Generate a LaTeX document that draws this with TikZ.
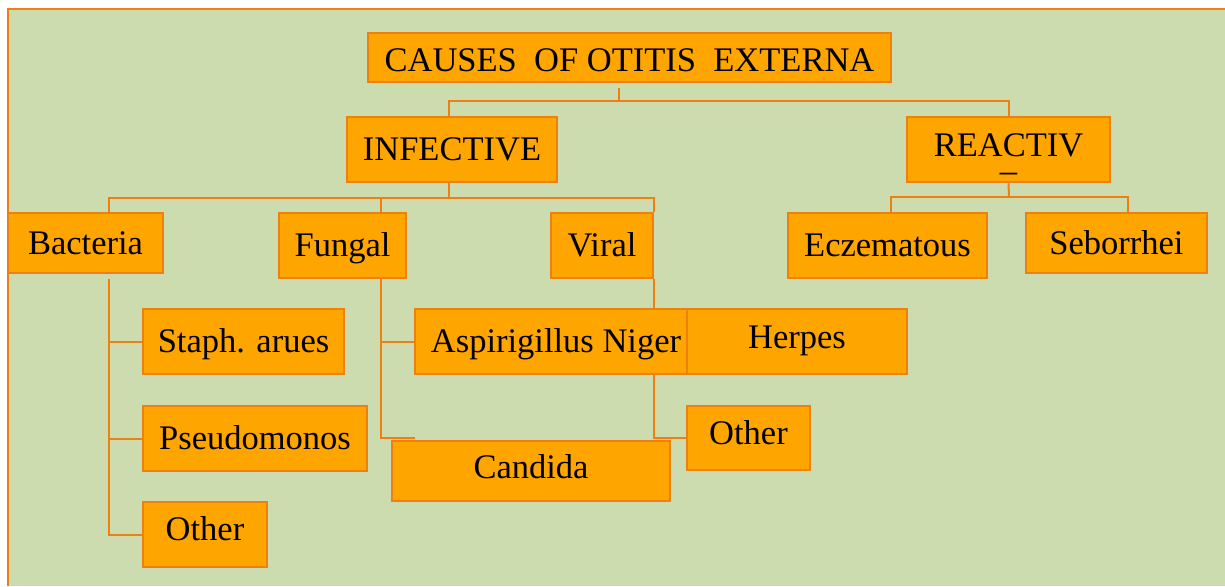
\documentclass[tikz,border=0pt]{standalone}
\usepackage{fontspec}
\setmainfont{Liberation Serif}
\definecolor{bgreen}{HTML}{CDDCAE}
\definecolor{boxfill}{HTML}{FFA500}
\definecolor{boxline}{HTML}{EE8012}
\pgfdeclarelayer{bg}
\pgfdeclarelayer{conn}
\pgfsetlayers{bg,conn,main}
\begin{document}
\begin{tikzpicture}[x=1pt,y=-1pt,
  box/.style={draw=boxline, fill=boxfill, line width=2.5pt, inner sep=0pt,
    text height=22.5pt, text depth=0pt, font=\fontsize{34.5}{40}\selectfont},
  link/.style={draw=boxline, line width=2pt}]
\useasboundingbox (0,0) rectangle (1225,586);
\begin{pgfonlayer}{bg}
  \fill[bgreen] (8,9) rectangle (1225,586);
  \draw[boxline, line width=2pt] (8,586) -- (8,9) -- (1225,9);
\end{pgfonlayer}

% nodes
\node[box, minimum width=523pt, minimum height=49pt, text height=27.5pt] (title) at (629.5,57.5) {CAUSES\ \ OF OTITIS\ \ EXTERNA};
\node[box, minimum width=210pt, minimum height=65pt] (inf) at (452,149.5) {INFECTIVE};
\node[box, minimum width=203pt, minimum height=65pt, align=center,
      font=\fontsize{34.5}{14}\selectfont, text height=41pt, text depth=0pt] (reac) at (1008.5,149.5) {REACTIV\\\_};
\node[box, minimum width=155pt, minimum height=60pt] (bact) at (85.5,243) {Bacteria};
\node[box, minimum width=127pt, minimum height=65pt] (fung) at (342.5,245.5) {Fungal};
\node[box, minimum width=102pt, minimum height=65pt] (viral) at (602,245.5) {Viral};
\node[box, minimum width=199pt, minimum height=65pt] (ecz) at (887.5,245.5) {Eczematous};
\node[box, minimum width=181pt, minimum height=60pt] (seb) at (1116.5,243) {Seborrhei};
\node[box, minimum width=201pt, minimum height=65pt] (staph) at (243.5,341.5) {Staph. arues};
\node[box, minimum width=224pt, minimum height=65pt] (pseudo) at (255,438.5) {Pseudomonos};
\node[box, minimum width=124pt, minimum height=65pt, text depth=10pt] (other1) at (205,534.5) {Other};
\node[box, minimum width=282pt, minimum height=65pt] (asp) at (556,341.5) {Aspirigillus Niger};
\node[box, minimum width=220pt, minimum height=65pt, text depth=9pt] (herpes) at (797,341.5) {Herpes};
\node[box, minimum width=278pt, minimum height=60pt, text depth=7pt] (cand) at (531,471) {Candida};
\node[box, minimum width=123pt, minimum height=64pt, text depth=9.5pt] (other2) at (748.5,438) {Other};

% connectors
\coordinate (bus1) at (619,101);
\coordinate (bus2) at (449,198);
\coordinate (bus3) at (1009,197);
\coordinate (candc) at (415,438);
\begin{pgfonlayer}{conn}
  \draw[link] ([xshift=-10.5pt,yshift=-5pt]title.south) -- (bus1);
  \draw[link] (bus1) -| ([xshift=-3pt]inf.north);
  \draw[link] (bus1) -| (reac.north);
  \draw[link] ([xshift=-3pt]inf.south) -- (bus2);
  \draw[link] (bus2) -| ([xshift=23.5pt]bact.north);
  \draw[link] (bus2) -| ([xshift=38.5pt]fung.north);
  \draw[link] (bus2) -| (viral.north east);
  \draw[link] (reac.south) -- (bus3);
  \draw[link] (bus3) -| ([xshift=3.5pt]ecz.north);
  \draw[link] (bus3) -| ([xshift=11.5pt]seb.north);
  \draw[link] ([xshift=23.5pt,yshift=-5pt]bact.south) |- (staph.west);
  \draw[link] ([xshift=23.5pt,yshift=-5pt]bact.south) |- (pseudo.west);
  \draw[link] ([xshift=23.5pt,yshift=-5pt]bact.south) |- (other1.west);
  \draw[link] ([xshift=38.5pt]fung.south) |- (asp.west);
  \draw[link] ([xshift=38.5pt]fung.south) |- (candc);
  \draw[link] (viral.south east) |- (other2.west);
\end{pgfonlayer}
\end{tikzpicture}
\end{document}
